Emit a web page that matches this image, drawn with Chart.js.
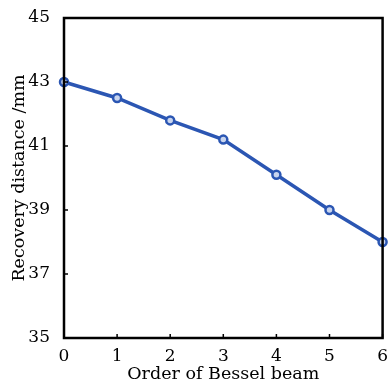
<!DOCTYPE html>
<html>
<head>
<meta charset="utf-8">
<script src="https://cdn.jsdelivr.net/npm/chart.js@4/dist/chart.umd.min.js"></script>
<style>
html,body{margin:0;padding:0;background:#fff;}
#wrap{width:390px;height:383px;}
</style>
</head>
<body>
<div id="wrap"><canvas id="c" width="390" height="383"></canvas></div>
<script>
const orders = ['0','1','2','3','4','5','6'];
const recoveryDistance = [43, 42.5, 41.8, 41.2, 40.1, 39, 38];
const yTicks = [35, 37, 39, 41, 43, 45];

const FONT = "'DejaVu Serif', 'Liberation Serif', serif";

const boxPlugin = {
  id: 'box',
  afterDraw(chart) {
    const {ctx, chartArea: a, scales} = chart;
    ctx.save();
    ctx.strokeStyle = '#000';
    ctx.lineWidth = 2.5;
    ctx.strokeRect(a.left, a.top, a.right - a.left, a.bottom - a.top);
    ctx.lineWidth = 1.5;
    ctx.beginPath();
    orders.forEach((o, i) => {
      const x = scales.x.getPixelForValue(i);
      ctx.moveTo(x, a.bottom); ctx.lineTo(x, a.bottom - 4);
    });
    yTicks.forEach(v => {
      const y = scales.y.getPixelForValue(v);
      ctx.moveTo(a.left, y); ctx.lineTo(a.left + 4, y);
    });
    ctx.stroke();
    ctx.restore();
  }
};

new Chart(document.getElementById('c'), {
  type: 'line',
  data: {
    labels: orders,
    datasets: [{
      data: recoveryDistance,
      borderColor: '#2b56b3',
      backgroundColor: '#ffffff',
      borderWidth: 3.5,
      pointRadius: 4,
      pointBorderWidth: 2.5,
      pointBorderColor: '#2b56b3',
      pointBackgroundColor: '#c9d5ee',
      tension: 0,
      clip: false
    }]
  },
  options: {
    responsive: false,
    animation: false,
    devicePixelRatio: 1,
    layout: {padding: {left: 0, top: 18, right: 6, bottom: 0}},
    plugins: {legend: {display: false}, tooltip: {enabled: false}},
    scales: {
      x: {
        offset: false,
        grid: {display: false},
        border: {display: false},
        ticks: {color: '#000', font: {family: FONT, size: 17, lineHeight: 1}, padding: 2, maxRotation: 0},
        title: {display: true, text: 'Order of Bessel beam', color: '#000', font: {family: FONT, size: 17.5, lineHeight: 1}, padding: {top: 0, bottom: 0}},
        afterFit(s) { s.height = 45; }
      },
      y: {
        min: 35, max: 45,
        afterBuildTicks(s) { s.ticks = yTicks.map(v => ({value: v})); },
        grid: {display: false},
        border: {display: false},
        ticks: {color: '#000', font: {family: FONT, size: 17}, padding: 6},
        title: {display: true, text: 'Recovery distance /mm', color: '#000', font: {family: FONT, size: 17.5}, padding: {top: 9, bottom: 2}},
        afterFit(s) { s.width = 64; }
      }
    }
  },
  plugins: [boxPlugin]
});
</script>
</body>
</html>
